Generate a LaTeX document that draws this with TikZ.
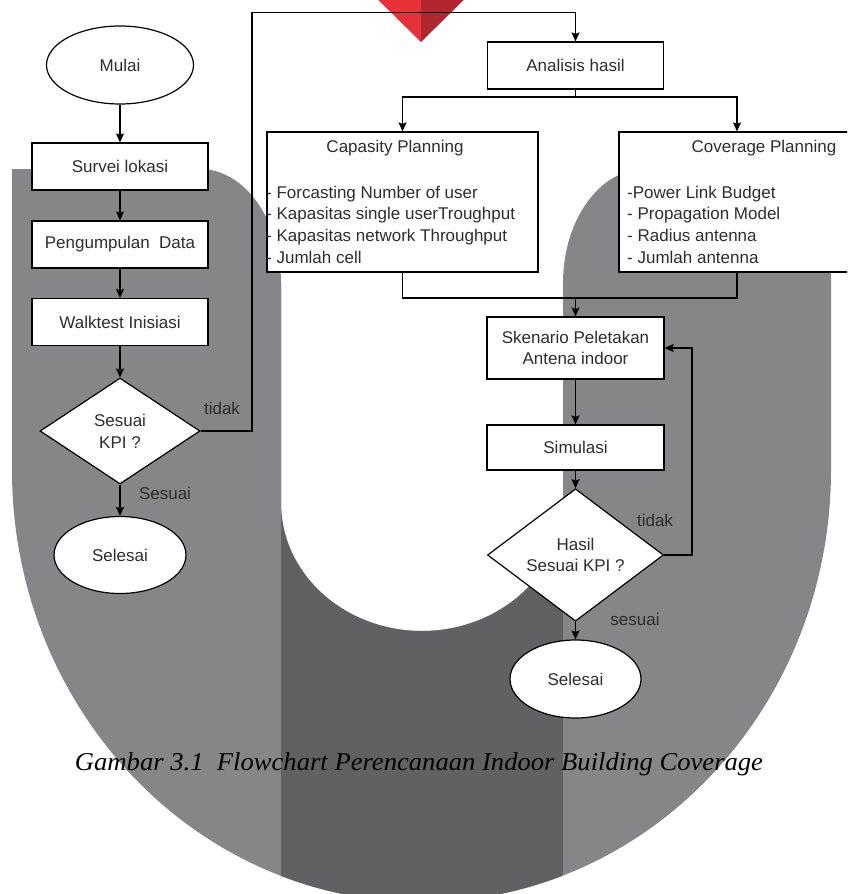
\documentclass[tikz,border=0pt]{standalone}
\usepackage{fontspec}
\setmainfont{Liberation Sans}
\newfontfamily\capfont{Liberation Serif}
\usetikzlibrary{shapes.geometric,arrows.meta,calc}
\definecolor{ugray}{RGB}{134,134,137}
\definecolor{udark}{RGB}{97,97,99}
\definecolor{redA}{RGB}{232,50,58}
\definecolor{redB}{RGB}{176,40,46}
\definecolor{txt}{RGB}{45,45,45}
\begin{document}
\begin{tikzpicture}[x=1pt,y=-1pt,
  font=\fontsize{17}{21.7}\selectfont,
  box/.style={draw=black, fill=white, line width=1.2pt, inner sep=0pt, text=txt, align=center},
  conn/.style={draw=black, line width=1.3pt},
  arr/.style={conn, -{Stealth[length=9pt,width=8pt,inset=1.5pt]}},
  lbl/.style={text=txt, inner sep=0pt}]
\useasboundingbox (0,0) rectangle (847,894);
\clip (0,0) rectangle (847,894);
\fill[white] (0,0) rectangle (847,894);
% red triangle
\fill[redA] (364,-14) -- (421,-14) -- (421,42) -- cycle;
\fill[redB] (421,-14) -- (478,-14) -- (421,42) -- cycle;
% U shape
\fill[ugray] (12,169) -- (200,169) arc[start angle=-90, end angle=0, x radius=81, y radius=114]
  -- (281,503) arc[start angle=180, end angle=0, x radius=141, y radius=128]
  -- (563,283) arc[start angle=180, end angle=270, x radius=82, y radius=114]
  -- (831,169) -- (831,470) arc[start angle=0, end angle=180, x radius=409.5, y radius=432] -- cycle;
\begin{scope}
\clip (12,169) -- (200,169) arc[start angle=-90, end angle=0, x radius=81, y radius=114]
  -- (281,503) arc[start angle=180, end angle=0, x radius=141, y radius=128]
  -- (563,283) arc[start angle=180, end angle=270, x radius=82, y radius=114]
  -- (831,169) -- (831,470) arc[start angle=0, end angle=180, x radius=409.5, y radius=432] -- cycle;
\fill[udark] (281,0) rectangle (563,900);
\end{scope}
% left column
\node[ellipse, box, minimum width=147, minimum height=78] (mulai) at (120,65) {Mulai};
\node[box, minimum width=176, minimum height=47] (survei) at (120,166.5) {Survei lokasi};
\node[box, minimum width=176, minimum height=47] (kumpul) at (120,244.5) {Pengumpulan\ \ Data};
\node[box, minimum width=176, minimum height=47] (walk) at (120,322) {Walktest Inisiasi};
\node[diamond, box, minimum width=160, minimum height=106] (kpi1) at (120,431) {Sesuai\\KPI ?};
\node[ellipse, box, minimum width=132, minimum height=77] (end1) at (120,555) {Selesai};
% right part
\node[box, minimum width=176, minimum height=47] (ana) at (575.5,65.5) {Analisis hasil};
\node[box, minimum width=271, minimum height=140] (capb) at (402.5,202) {};
\node[box, minimum width=236, minimum height=140] (covb) at (737,202) {};
\node[lbl] (capt) at (395,148) {Capasity Planning};
\node[lbl, anchor=west, align=left] (capl) at (266,224.7) {- Forcasting Number of user\\- Kapasitas single userTroughput\\- Kapasitas network Throughput\\- Jumlah cell};
\node[lbl] (covt) at (764,148) {Coverage Planning};
\node[lbl, anchor=west, align=left] (covl) at (627,224.7) {-Power Link Budget\\- Propagation Model\\- Radius antenna\\- Jumlah antenna};
\node[box, minimum width=177, minimum height=62] (sken) at (575.5,348) {Skenario Peletakan\\Antena indoor};
\node[box, minimum width=177, minimum height=45] (sim) at (575.5,447.5) {Simulasi};
\node[diamond, box, minimum width=176, minimum height=122] (kpi2) at (575.5,555) {Hasil\\Sesuai KPI ?};
\node[ellipse, box, minimum width=131, minimum height=78] (end2) at (575.5,679) {Selesai};
% labels
\node[lbl] (tidak1) at (222,408) {tidak};
\node[lbl] (sesuai1) at (165,493) {Sesuai};
\node[lbl] (tidak2) at (655,520) {tidak};
\node[lbl] (sesuai2) at (635,619) {sesuai};
% connectors
\draw[arr] (mulai) -- (survei);
\draw[arr] (survei) -- (kumpul);
\draw[arr] (kumpul) -- (walk);
\draw[arr] (walk) -- (kpi1);
\draw[arr] (kpi1) -- (end1);
\coordinate (up1) at (252,12.7);
\draw[arr] (kpi1.east) -| (up1) -| (ana.north);
\coordinate (split) at (575.5,97);
\draw[conn] (ana.south) -- (split);
\draw[arr] (split) -| (capb.north);
\draw[arr] (split) -| (covb.north);
\coordinate (merge) at (575.5,298);
\draw[conn] (capb.south) |- (merge) -| (covb.south);
\draw[arr] (merge) -- (sken.north);
\draw[arr] (sken) -- (sim);
\draw[arr] (sim) -- (kpi2);
\coordinate (loop) at (692,348);
\draw[arr] (kpi2.east) -| (loop) -- (sken.east);
\draw[arr] (kpi2) -- (end2);
% caption
\node[inner sep=0pt, anchor=base] (caption) at (419,770) {\resizebox{688pt}{17.8pt}{\capfont\itshape Gambar 3.1\ \ Flowchart Perencanaan Indoor Building Coverage}};
\end{tikzpicture}
\end{document}
